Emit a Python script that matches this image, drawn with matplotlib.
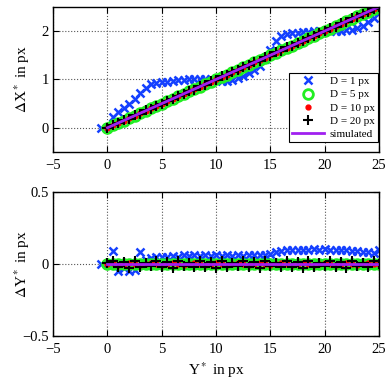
import numpy as np
import matplotlib
matplotlib.use("Agg")
import matplotlib.pyplot as plt
from matplotlib.ticker import FuncFormatter

# Y* positions (px) shared by the D = 5/10/20 px runs
y_pos = [0.0, 0.5, 1.0, 1.5, 2.0, 2.5, 3.0, 3.5, 4.0, 4.5,
         5.0, 5.5, 6.0, 6.5, 7.0, 7.5, 8.0, 8.5, 9.0, 9.5,
         10.0, 10.5, 11.0, 11.5, 12.0, 12.5, 13.0, 13.5, 14.0, 14.5,
         15.0, 15.5, 16.0, 16.5, 17.0, 17.5, 18.0, 18.5, 19.0, 19.5,
         20.0, 20.5, 21.0, 21.5, 22.0, 22.5, 23.0, 23.5, 24.0, 24.5, 25.0]

# D = 1 px has one extra point left of zero
y_pos_d1 = [-0.6] + y_pos

dx_d1 = [0.00, 0.00, 0.22, 0.32, 0.40, 0.50, 0.60, 0.72, 0.83, 0.90, 0.93,
         0.94, 0.95, 0.96, 0.98, 0.99, 1.00, 1.01, 1.00, 1.00, 1.00,
         0.99, 0.97, 0.96, 0.98, 1.03, 1.08, 1.13, 1.19, 1.28, 1.42,
         1.60, 1.80, 1.90, 1.93, 1.95, 1.96, 1.97, 1.98, 1.99, 2.00,
         2.00, 2.00, 2.01, 2.01, 2.02, 2.03, 2.06, 2.10, 2.18, 2.26, 2.40]
dy_d1 = [0.00, 0.00, 0.09, -0.05, -0.03, -0.05, -0.04, 0.08, 0.03, 0.04, 0.05,
         0.05, 0.05, 0.055, 0.05, 0.06, 0.055, 0.06, 0.055, 0.06, 0.055,
         0.06, 0.055, 0.06, 0.055, 0.06, 0.055, 0.06, 0.06, 0.065, 0.06,
         0.07, 0.085, 0.09, 0.095, 0.10, 0.095, 0.10, 0.10, 0.105, 0.10,
         0.105, 0.10, 0.10, 0.10, 0.095, 0.09, 0.09, 0.085, 0.08, 0.075, 0.095]

dx_d5 = [0.00, 0.05, 0.10, 0.15, 0.20, 0.25, 0.30, 0.35, 0.40, 0.45,
         0.50, 0.55, 0.60, 0.65, 0.70, 0.75, 0.80, 0.85, 0.90, 0.95,
         1.00, 1.05, 1.10, 1.15, 1.20, 1.25, 1.30, 1.35, 1.40, 1.45,
         1.50, 1.55, 1.60, 1.65, 1.70, 1.75, 1.80, 1.85, 1.90, 1.95,
         2.00, 2.05, 2.10, 2.15, 2.20, 2.25, 2.30, 2.35, 2.40, 2.45, 2.50]
dy_d5 = [0.00, 0.00, 0.00, 0.00, 0.00, 0.00, 0.00, 0.00, 0.00, 0.00,
         0.00, 0.00, 0.00, 0.00, 0.00, 0.00, 0.00, 0.00, 0.00, 0.00,
         0.00, 0.00, 0.00, 0.00, 0.00, 0.00, 0.00, 0.00, 0.00, 0.00,
         0.00, 0.00, 0.00, 0.00, 0.00, 0.00, 0.00, 0.00, 0.00, 0.00,
         0.00, 0.00, 0.00, 0.00, 0.00, 0.00, 0.00, 0.00, 0.00, 0.00, 0.00]

dx_d10 = [0.00, 0.05, 0.10, 0.15, 0.20, 0.25, 0.30, 0.35, 0.40, 0.45,
          0.50, 0.55, 0.60, 0.65, 0.70, 0.75, 0.80, 0.85, 0.90, 0.95,
          1.00, 1.05, 1.10, 1.15, 1.20, 1.25, 1.30, 1.35, 1.40, 1.45,
          1.50, 1.55, 1.60, 1.65, 1.70, 1.75, 1.80, 1.85, 1.90, 1.95,
          2.00, 2.05, 2.10, 2.15, 2.20, 2.25, 2.30, 2.35, 2.40, 2.45, 2.50]
dy_d10 = [0.00, 0.005, -0.005, 0.00, 0.005, 0.00, -0.005, 0.00, 0.005, 0.00,
          -0.005, 0.00, 0.005, 0.00, -0.005, 0.00, 0.005, 0.00, -0.005, 0.00,
          0.005, 0.00, -0.005, 0.00, 0.005, 0.00, -0.005, 0.00, 0.005, 0.00,
          -0.005, 0.00, 0.005, 0.00, -0.005, 0.00, 0.005, 0.00, -0.005, 0.00,
          0.005, 0.00, -0.005, 0.00, 0.005, 0.00, -0.005, 0.00, 0.005, 0.00, 0.00]

dx_d20 = [0.00, 0.06, 0.09, 0.16, 0.19, 0.26, 0.29, 0.36, 0.39, 0.46,
          0.49, 0.56, 0.59, 0.66, 0.69, 0.76, 0.79, 0.86, 0.89, 0.96,
          0.99, 1.06, 1.09, 1.16, 1.19, 1.26, 1.29, 1.36, 1.39, 1.46,
          1.49, 1.56, 1.59, 1.66, 1.69, 1.76, 1.79, 1.86, 1.89, 1.96,
          1.99, 2.06, 2.09, 2.16, 2.19, 2.26, 2.29, 2.36, 2.39, 2.46, 2.50]
dy_d20 = [0.01, 0.02, -0.02, 0.015, -0.025, 0.02, -0.02, 0.01, -0.015, 0.02,
          -0.02, 0.015, -0.025, 0.02, -0.015, 0.01, -0.02, 0.02, -0.02, 0.015,
          -0.025, 0.02, -0.02, 0.01, -0.015, 0.02, -0.02, 0.015, -0.025, 0.02,
          -0.015, 0.01, -0.02, 0.02, -0.02, 0.015, -0.025, 0.02, -0.02, 0.01,
          -0.015, 0.02, -0.02, 0.015, -0.025, 0.02, -0.015, 0.01, -0.02, 0.02, 0.00]

# simulated reference
sim_y = [0.0, 25.0]
sim_dx = [0.0, 2.5]
sim_dy = [0.0, 0.0]

labels = ["D = 1 px", "D = 5 px", "D = 10 px", "D = 20 px", "simulated"]

plt.rcParams["font.family"] = "Liberation Serif"
plt.rcParams["mathtext.fontset"] = "stix"
plt.rcParams["xtick.direction"] = "in"
plt.rcParams["ytick.direction"] = "in"

fig = plt.figure(figsize=(3.88, 3.79), dpi=100)
ax1 = fig.add_axes([0.137, 0.599, 0.840, 0.383])
ax2 = fig.add_axes([0.137, 0.1135, 0.840, 0.380])

blue = "#1440ff"
green = "#22ee22"
purple = "#a020f0"


def fmt(v, pos):
    if abs(v) < 1e-9:
        return "0"
    s = ("%g" % v)
    return s.replace("-", "\u2212")


def draw(ax, d1, d5, d10, d20, sim):
    ax.plot(y_pos_d1, d1, ls="none", marker="x", color=blue, ms=6, mew=1.8,
            label=labels[0])
    ax.plot(y_pos, d5, ls="none", marker="o", mfc="none", mec=green, ms=7,
            mew=2.0, label=labels[1])
    ax.plot(y_pos, d10, ls="none", marker="o", color="red", ms=3.5,
            label=labels[2])
    ax.plot(y_pos, d20, ls="none", marker="+", color="black", ms=7, mew=1.5,
            label=labels[3])
    ax.plot(sim_y, sim, color=purple, lw=2.0, label=labels[4])
    ax.set_xlim(-5, 25)
    ax.set_xticks([-5, 0, 5, 10, 15, 20, 25])
    ax.grid(True, ls=":", color="#555555", lw=0.8)
    ax.tick_params(top=True, right=True, labelsize=10.5, length=4, width=0.8)
    ax.tick_params(axis="x", pad=5)
    ax.tick_params(axis="y", pad=3)
    ax.xaxis.set_major_formatter(FuncFormatter(fmt))
    ax.yaxis.set_major_formatter(FuncFormatter(fmt))
    ax.yaxis.set_label_coords(-0.095, 0.5)
    for sp in ax.spines.values():
        sp.set_linewidth(1.0)


draw(ax1, dx_d1, dx_d5, dx_d10, dx_d20, sim_dx)
ax1.set_ylim(-0.5, 2.5)
ax1.set_yticks([0, 1, 2])
ax1.set_ylabel(r"$\Delta$X$^*$ in px", fontsize=11, va="center")
leg = ax1.legend(loc="lower right", bbox_to_anchor=(1.0, 0.06), fontsize=8,
                 fancybox=False, edgecolor="black", framealpha=1,
                 handlelength=2.9, borderpad=0.3, labelspacing=0.3,
                 handletextpad=0.5, borderaxespad=0.1)
leg.get_frame().set_linewidth(0.8)

draw(ax2, dy_d1, dy_d5, dy_d10, dy_d20, sim_dy)
ax2.set_ylim(-0.5, 0.5)
ax2.set_yticks([-0.5, 0, 0.5])
ax2.set_ylabel(r"$\Delta$Y$^*$ in px", fontsize=11, va="center")
ax2.set_xlabel(r"Y$^*$ in px", fontsize=11, va="center")
ax2.xaxis.set_label_coords(0.5, -0.235)

fig.savefig("out.png", dpi=100)
